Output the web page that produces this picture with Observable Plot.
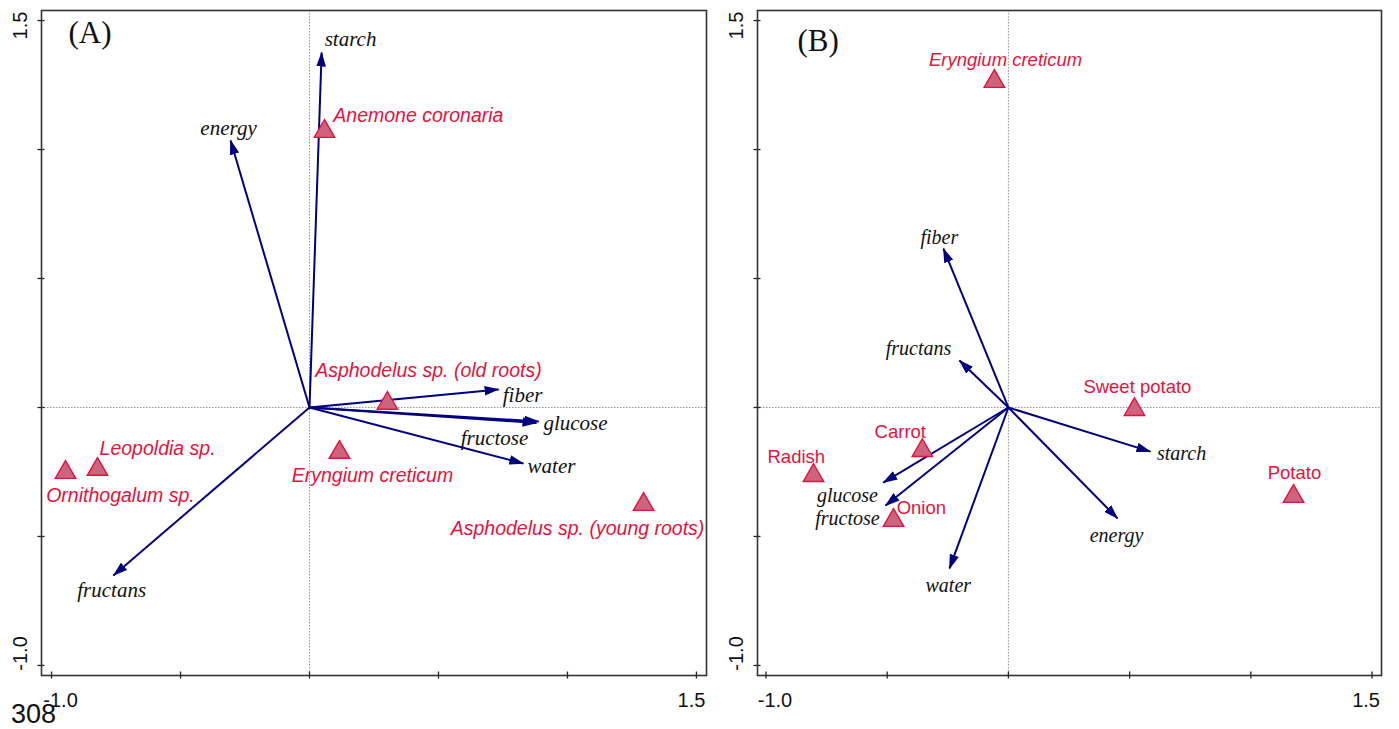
<!DOCTYPE html>
<html><head><meta charset="utf-8">
<script src="https://cdn.jsdelivr.net/npm/d3@7"></script>
<script src="https://cdn.jsdelivr.net/npm/@observablehq/plot@0.6"></script>
<style>
body{margin:0;background:#fff;}
#wrap{position:relative;width:1399px;height:729px;overflow:hidden;background:#fff;}
#pa{position:absolute;left:0;top:0;}
#pb{position:absolute;left:716px;top:0;}
#page{position:absolute;left:11px;top:701px;font:27px "Liberation Sans",Arial,sans-serif;color:#111;line-height:1;}
</style></head><body>
<div id="wrap"><div id="pa"></div><div id="pb"></div><div id="page">308</div></div>
<script>
// ---------- data ----------
const tickValues = [-1.0, -0.5, 0, 0.5, 1.0, 1.5];
const endTicks = [-1.0, 1.5];

// Panel A: variable arrows (biplot scores)
const varsA   = ["starch", "energy", "fiber", "glucose", "fructose", "water", "fructans"];
const varsAx  = [0.047, -0.306, 0.733, 0.888, 0.880, 0.829, -0.760];
const varsAy  = [1.376, 1.035, 0.070, -0.054, -0.060, -0.217, -0.651];
const varsALx = [0.159, -0.314, 0.826, 1.031, 0.717, 0.938, -0.767];
const varsALy = [1.426, 1.081, 0.047, -0.062, -0.120, -0.229, -0.709];

// Panel A: species
const spA   = ["Anemone coronaria", "Asphodelus sp. (old roots)", "Eryngium creticum",
               "Asphodelus sp. (young roots)", "Leopoldia sp.", "Ornithogalum sp."];
const spAx  = [0.058, 0.302, 0.116, 1.295, -0.822, -0.946];
const spAy  = [1.070, 0.016, -0.174, -0.376, -0.240, -0.252];
const spALx = [0.422, 0.461, 0.244, 1.039, -0.589, -0.733];
const spALy = [1.132, 0.143, -0.264, -0.469, -0.159, -0.341];
const spAStyle = ["italic", "italic", "italic", "italic", "italic", "italic"];

// Panel B: variable arrows
const varsB   = ["fiber", "fructans", "starch", "energy", "water", "glucose", "fructose"];
const varsBx  = [-0.268, -0.202, 0.586, 0.450, -0.243, -0.516, -0.507];
const varsBy  = [0.616, 0.182, -0.171, -0.430, -0.624, -0.291, -0.380];
const varsBLx = [-0.285, -0.371, 0.714, 0.446, -0.248, -0.664, -0.664];
const varsBLy = [0.659, 0.229, -0.178, -0.496, -0.690, -0.341, -0.430];

// Panel B: foods
const spB   = ["Eryngium creticum", "Sweet potato", "Potato", "Carrot", "Radish", "Onion"];
const spBx  = [-0.058, 0.520, 1.176, -0.355, -0.804, -0.474];
const spBy  = [1.264, -0.008, -0.345, -0.167, -0.264, -0.438];
const spBLx = [-0.012, 0.532, 1.180, -0.446, -0.875, -0.359];
const spBLy = [1.345, 0.078, -0.256, -0.097, -0.194, -0.391];
const spBStyle = ["italic", "normal", "normal", "normal", "normal", "normal"];

// ---------- styling ----------
const SANS = "'Liberation Sans', Arial, Helvetica, sans-serif";
const SERIF = "'Liberation Serif', 'Times New Roman', serif";
const NAVY = "#000080";
const RED = "#e5123c";
const TRI_FILL = "#cd637c";

function headMarker(color, context) {
  const ns = "http://www.w3.org/2000/svg";
  const doc = (context && context.document) || document;
  const m = doc.createElementNS(ns, "marker");
  m.setAttribute("viewBox", "0 -5 15 10");
  m.setAttribute("markerUnits", "userSpaceOnUse");
  m.setAttribute("markerWidth", "15");
  m.setAttribute("markerHeight", "10");
  m.setAttribute("refX", "14");
  m.setAttribute("refY", "0");
  m.setAttribute("orient", "auto");
  const p = doc.createElementNS(ns, "path");
  p.setAttribute("d", "M0,-4.8L15,0L0,4.8Z");
  p.setAttribute("fill", color);
  p.setAttribute("stroke", "none");
  m.appendChild(p);
  return m;
}

function panel(cfg, marker) {
  const idxV = cfg.vars.map((_, i) => i);
  const idxS = cfg.sp.map((_, i) => i);
  const italicS = idxS.filter(i => cfg.spStyle[i] === "italic");
  const normalS = idxS.filter(i => cfg.spStyle[i] !== "italic");
  const tickText = {fontSize: 20, fontFamily: SANS, fill: "#111", text: d => d.toFixed(1)};
  return Plot.plot({
    width: cfg.width,
    height: 729,
    marginLeft: 41,
    marginRight: cfg.marginRight,
    marginTop: 10,
    marginBottom: 54,
    x: {domain: cfg.xDomain},
    y: {domain: [-1.039, 1.539]},
    style: {background: "#fff", overflow: "visible"},
    marks: [
      Plot.ruleX([0], {stroke: "#888", strokeWidth: 0.9, strokeDasharray: "1.5,1.5"}),
      Plot.ruleY([0], {stroke: "#888", strokeWidth: 0.9, strokeDasharray: "1.5,1.5"}),
      // tick marks straddling the frame
      Plot.axisX(tickValues, {anchor: "bottom", tickSize: 7, dy: -3.5, tickFormat: () => "", stroke: "#222", strokeWidth: 1.3}),
      Plot.axisY(tickValues, {anchor: "left", tickSize: 7, dx: 3.5, tickFormat: () => "", stroke: "#222", strokeWidth: 1.3}),
      // end tick labels
      Plot.text([endTicks[0]], {x: d => d, frameAnchor: "bottom", dy: 17, dx: 9, lineAnchor: "top", ...tickText}),
      Plot.text([endTicks[1]], {x: d => d, frameAnchor: "bottom", dy: 17, dx: cfg.xEndDx, lineAnchor: "top", ...tickText}),
      Plot.text([endTicks[0]], {y: d => d, frameAnchor: "left", dx: -21, dy: -12, rotate: -90, textAnchor: "middle", lineAnchor: "middle", ...tickText}),
      Plot.text([endTicks[1]], {y: d => d, frameAnchor: "left", dx: -21, dy: 5, rotate: -90, textAnchor: "middle", lineAnchor: "middle", ...tickText}),
      Plot.frame({stroke: "#333", strokeWidth: 1.6}),
      // arrows
      Plot.link(idxV, {x1: () => 0, y1: () => 0, x2: i => cfg.vx[i], y2: i => cfg.vy[i],
        stroke: NAVY, strokeWidth: 2, markerEnd: marker}),
      Plot.text(idxV, {x: i => cfg.vlx[i], y: i => cfg.vly[i], text: i => cfg.vars[i],
        fontFamily: SERIF, fontStyle: "italic", fontSize: cfg.varFont, fill: "#111", lineAnchor: "middle"}),
      // species
      Plot.dot(idxS, {x: i => cfg.sx[i], y: i => cfg.sy[i], symbol: "triangle", r: 7.6,
        fill: TRI_FILL, stroke: RED, strokeWidth: 1.4}),
      Plot.text(italicS, {x: i => cfg.slx[i], y: i => cfg.sly[i], text: i => cfg.sp[i],
        fontFamily: SANS, fontStyle: "italic", fontSize: cfg.spFont, fill: RED, lineAnchor: "middle"}),
      Plot.text(normalS, {x: i => cfg.slx[i], y: i => cfg.sly[i], text: i => cfg.sp[i],
        fontFamily: SANS, fontSize: cfg.spFont, fill: RED, lineAnchor: "middle"}),
      // panel tag
      Plot.text([cfg.tag], {frameAnchor: "top-left", dx: cfg.tagDx, dy: cfg.tagDy, text: d => d,
        fontFamily: SERIF, fontSize: 31, fill: "#111", textAnchor: "start", lineAnchor: "bottom"})
    ]
  });
}

const cfgA = {width: 716, marginRight: 10, xDomain: [-1.039, 1.539], xEndDx: -5,
  vars: varsA, vx: varsAx, vy: varsAy, vlx: varsALx, vly: varsALy, varFont: 21,
  sp: spA, sx: spAx, sy: spAy, slx: spALx, sly: spALy, spStyle: spAStyle, spFont: 19.5,
  tag: "(A)", tagDx: 27, tagDy: 32};
const cfgB = {width: 683, marginRight: 18, xDomain: [-1.035, 1.539], xEndDx: -6,
  vars: varsB, vx: varsBx, vy: varsBy, vlx: varsBLx, vly: varsBLy, varFont: 20,
  sp: spB, sx: spBx, sy: spBy, slx: spBLx, sly: spBLy, spStyle: spBStyle, spFont: 18.5,
  tag: "(B)", tagDx: 40, tagDy: 40.5};

function build(cfg) {
  try { return panel(cfg, headMarker); }
  catch (e) { return panel(cfg, "arrow"); }
}
document.getElementById("pa").appendChild(build(cfgA));
document.getElementById("pb").appendChild(build(cfgB));
</script>
</body></html>
